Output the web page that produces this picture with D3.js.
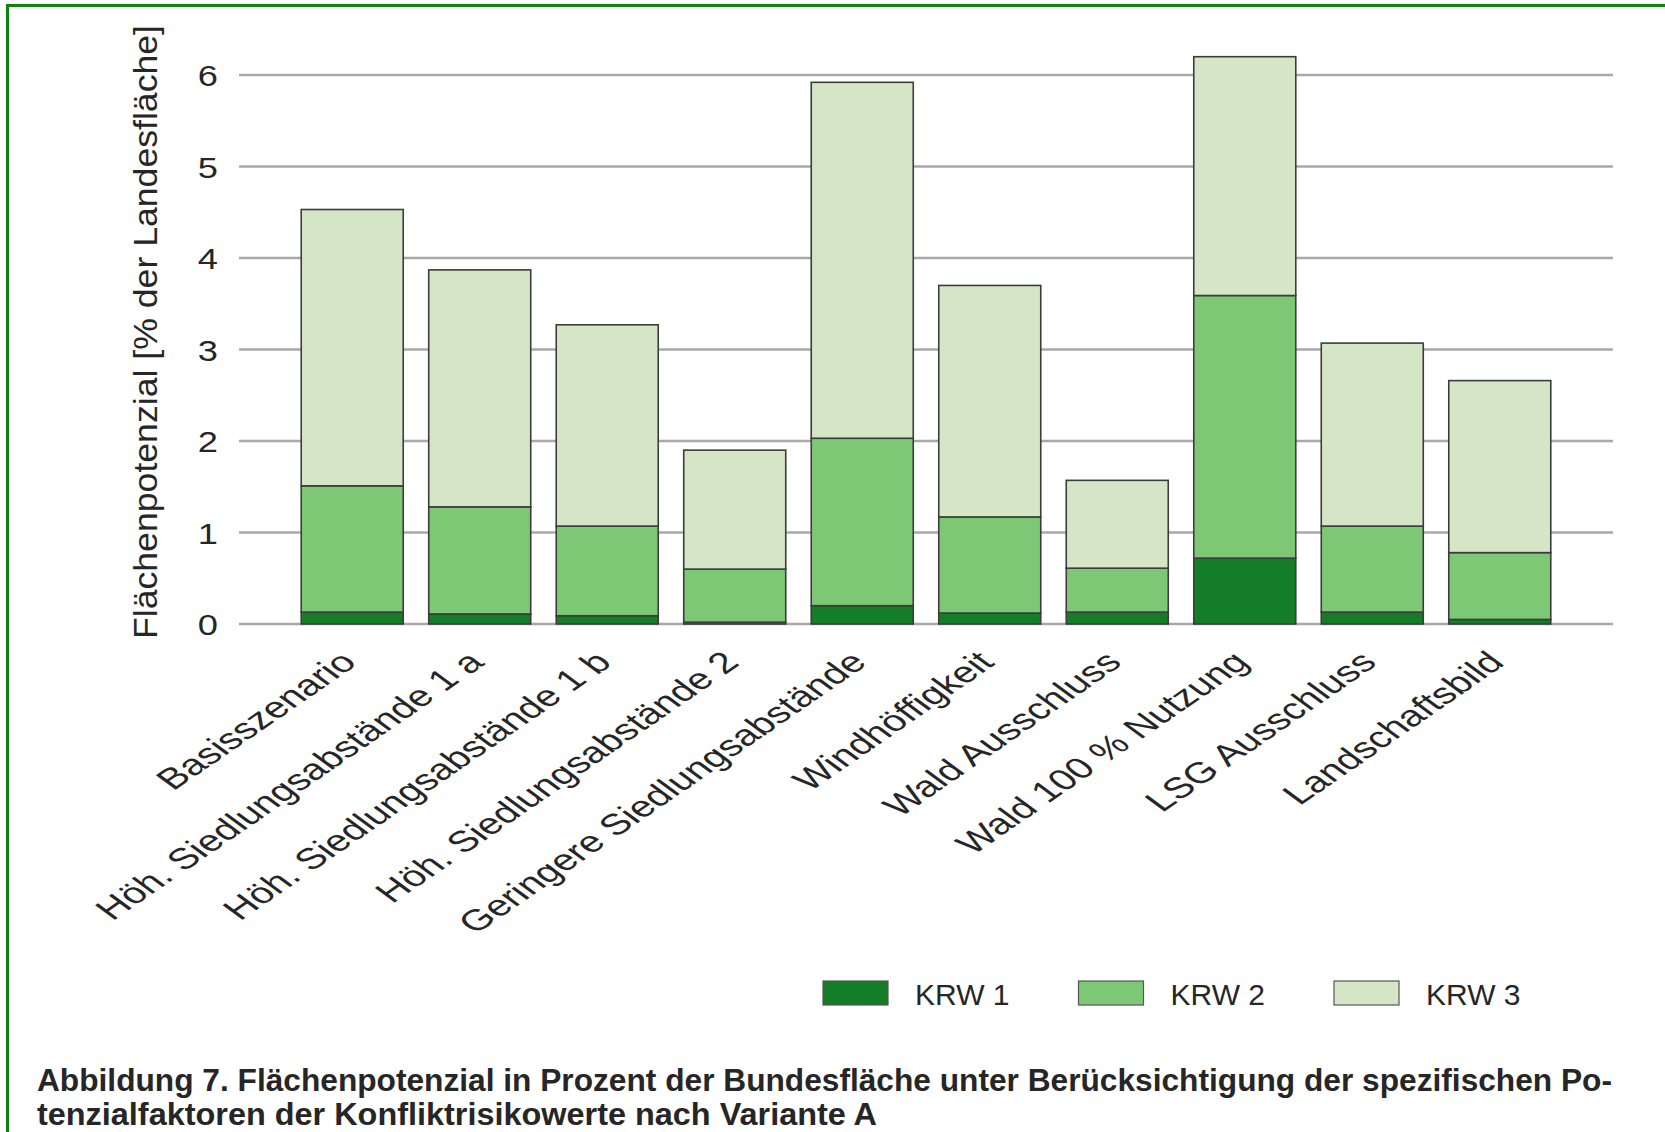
<!DOCTYPE html>
<html>
<head>
<meta charset="utf-8">
<script src="https://cdn.jsdelivr.net/npm/d3@7"></script>
<style>
  html, body { margin: 0; padding: 0; background: #ffffff; }
  svg { display: block; }
  text { font-family: "Liberation Sans", Arial, Helvetica, sans-serif; fill: #262626; }
</style>
</head>
<body>
<svg id="chart" width="1665" height="1132"></svg>
<script>
// Scenario names along the x axis
const categories = [
  "Basisszenario",
  "Höh. Siedlungsabstände 1 a",
  "Höh. Siedlungsabstände 1 b",
  "Höh. Siedlungsabstände 2",
  "Geringere Siedlungsabstände",
  "Windhöffigkeit",
  "Wald Ausschluss",
  "Wald 100 % Nutzung",
  "LSG Ausschluss",
  "Landschaftsbild"
];

// Area potential per conflict risk value, % of national area
const krw1 = [0.13, 0.11, 0.09, 0.02, 0.20, 0.12, 0.13, 0.72, 0.13, 0.05];
const krw2 = [1.38, 1.17, 0.98, 0.58, 1.83, 1.05, 0.48, 2.87, 0.94, 0.73];
const krw3 = [3.02, 2.59, 2.20, 1.30, 3.89, 2.53, 0.96, 2.61, 2.00, 1.88];

const seriesNames = ["KRW 1", "KRW 2", "KRW 3"];
const seriesColors = ["#147d27", "#7cc874", "#d5e6c7"];
const yTicks = [0, 1, 2, 3, 4, 5, 6];

const yTitle = "Flächenpotenzial [% der Landesfläche]";
const captionLines = [
  "Abbildung 7. Flächenpotenzial in Prozent der Bundesfläche unter Berücksichtigung der spezifischen Po-",
  "tenzialfaktoren der Konfliktrisikowerte nach Variante A"
];

// rows for d3.stack
const rows = categories.map((c, i) => ({
  cat: c, "KRW 1": krw1[i], "KRW 2": krw2[i], "KRW 3": krw3[i]
}));

const svg = d3.select("#chart");

// green frame
svg.append("rect")
  .attr("x", 7.5).attr("y", 5.5)
  .attr("width", 1700).attr("height", 1200)
  .attr("fill", "none")
  .attr("stroke", "#0e820e")
  .attr("stroke-width", 3);

const plotLeft = 239, plotRight = 1613;
const x = d3.scaleBand()
  .domain(categories)
  .range([plotLeft, plotRight])
  .paddingInner(0.2)
  .paddingOuter(0.488);

const y = d3.scaleLinear()
  .domain([0, 6])
  .range([624, 75]);

// horizontal gridlines
svg.append("g")
  .selectAll("line")
  .data(yTicks)
  .join("line")
  .attr("x1", plotLeft).attr("x2", plotRight)
  .attr("y1", d => y(d)).attr("y2", d => y(d))
  .attr("stroke", "#a9a9a9")
  .attr("stroke-width", 2.5);

// y tick labels
svg.append("g")
  .selectAll("text")
  .data(yTicks)
  .join("text")
  .attr("transform", d => `translate(218,${y(d) + 1}) scale(1.25,1)`)
  .attr("text-anchor", "end")
  .attr("dominant-baseline", "central")
  .attr("font-size", 29)
  .text(d => d);

// y axis title
svg.append("text")
  .attr("transform", `translate(157,332) rotate(-90)`)
  .attr("text-anchor", "middle")
  .attr("font-size", 34)
  .attr("textLength", 614)
  .attr("lengthAdjust", "spacingAndGlyphs")
  .text(yTitle);

// stacked bars
const stacked = d3.stack().keys(seriesNames)(rows);
const color = d3.scaleOrdinal().domain(seriesNames).range(seriesColors);

svg.append("g")
  .selectAll("g")
  .data(stacked)
  .join("g")
  .attr("fill", d => color(d.key))
  .selectAll("rect")
  .data(d => d)
  .join("rect")
  .attr("x", d => x(d.data.cat))
  .attr("width", x.bandwidth())
  .attr("y", d => y(d[1]))
  .attr("height", d => y(d[0]) - y(d[1]))
  .attr("stroke", "#3c3c3c")
  .attr("stroke-width", 1.6);

// rotated category labels
svg.append("g")
  .selectAll("text")
  .data(categories)
  .join("text")
  .attr("transform", d => `translate(${x(d) + x.bandwidth() / 2 + 6},664) scale(1.4,1) rotate(-44)`)
  .attr("text-anchor", "end")
  .attr("font-size", 29.5)
  .text(d => d);

// legend
const legend = svg.append("g")
  .selectAll("g")
  .data(seriesNames)
  .join("g")
  .attr("transform", (d, i) => `translate(${823 + i * 255.5},981)`);

legend.append("rect")
  .attr("width", 65).attr("height", 24)
  .attr("fill", d => color(d))
  .attr("stroke", "#555")
  .attr("stroke-width", 1.2);

legend.append("text")
  .attr("x", 92).attr("y", 24)
  .attr("font-size", 30)
  .text(d => d);

// caption below the chart
svg.append("g")
  .selectAll("text")
  .data(captionLines)
  .join("text")
  .attr("x", 37)
  .attr("y", (d, i) => 1091 + i * 34)
  .attr("font-size", 31)
  .attr("font-weight", "bold")
  .attr("fill", "#111")
  .attr("textLength", (d, i) => i === 0 ? 1575 : 840)
  .attr("lengthAdjust", "spacingAndGlyphs")
  .text(d => d);
</script>
</body>
</html>
